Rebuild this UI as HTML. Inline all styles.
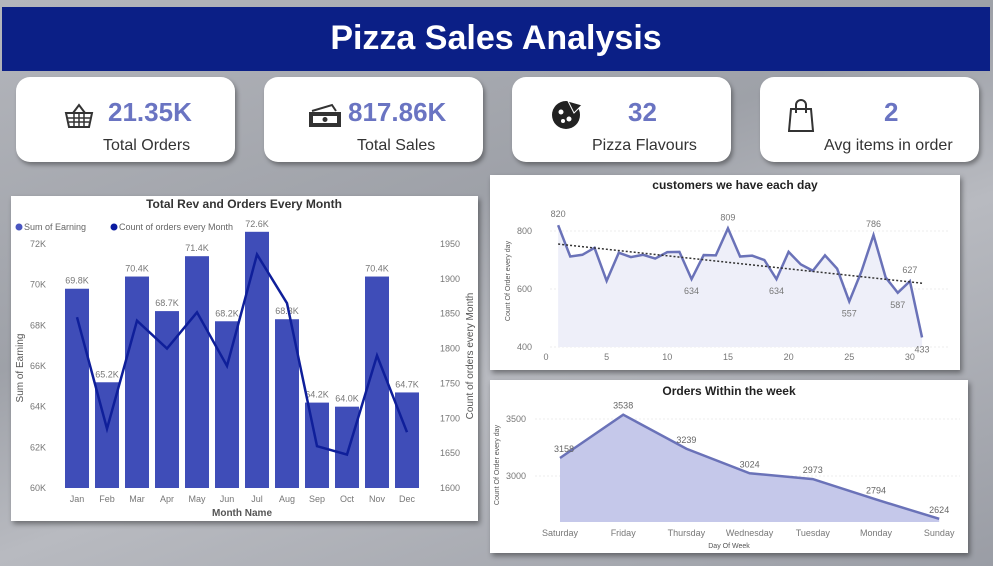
<!DOCTYPE html>
<html><head><meta charset="utf-8"><style>
body{margin:0;width:993px;height:566px;overflow:hidden;font-family:"Liberation Sans",sans-serif;background:linear-gradient(160deg,#b4b6bc 0%,#9ea1a8 40%,#b8bac0 60%,#9a9da5 100%);position:relative}
.hdr{position:absolute;left:2px;top:7px;width:988px;height:64px;background:#0b1f86;color:#fff;font-weight:bold;font-size:34px;text-align:center;line-height:62px}
.card{position:absolute;top:77px;width:219px;height:85px;background:#fff;border-radius:14px;box-shadow:2px 3px 4px rgba(0,0,0,.35)}
.card .v{position:absolute;top:20px;font-size:26px;font-weight:bold;color:#6a74c2}
.card .l{position:absolute;top:60px;font-size:16px;color:#333}
.card svg{position:absolute;top:26px}
.panel{position:absolute;background:#fff;box-shadow:2px 3px 5px rgba(0,0,0,.4)}
svg text{font-family:"Liberation Sans",sans-serif}
</style></head><body>
<div class="hdr">Pizza Sales Analysis</div>
<div class="card" style="left:16px">
<svg width="30" height="26" style="left:48px"><path d="M2 10h26l-3 14H5z M9 10l6-8 6 8" fill="none" stroke="#333" stroke-width="2"/><path d="M4 15h22M5 19h20M10 10v14M15 10v14M20 10v14" stroke="#333" stroke-width="1.5"/></svg>
<div class="v" style="left:92px">21.35K</div><div class="l" style="left:87px">Total Orders</div></div>
<div class="card" style="left:264px">
<svg width="34" height="26" style="left:44px"><path d="M4 8l20-6 4 6" fill="none" stroke="#333" stroke-width="2"/><rect x="1" y="9" width="32" height="15" fill="#333"/><rect x="5" y="13" width="24" height="7" fill="#fff"/><circle cx="17" cy="16.5" r="2.5" fill="#333"/></svg>
<div class="v" style="left:84px">817.86K</div><div class="l" style="left:93px">Total Sales</div></div>
<div class="card" style="left:512px">
<svg width="34" height="34" style="left:38px;top:20px"><circle cx="16" cy="18" r="14" fill="#222"/><circle cx="11" cy="15" r="2.5" fill="#fff"/><circle cx="19" cy="22" r="2.5" fill="#fff"/><circle cx="13" cy="24" r="2" fill="#fff"/><path d="M18 4l14 4-8 8z" fill="#222" stroke="#fff" stroke-width="1"/></svg>
<div class="v" style="left:116px">32</div><div class="l" style="left:80px">Pizza Flavours</div></div>
<div class="card" style="left:760px">
<svg width="28" height="34" style="left:28px;top:22px"><path d="M3 10h20l2 22H1z" fill="none" stroke="#333" stroke-width="2"/><path d="M8 14V6a5 5 0 0 1 10 0v8" fill="none" stroke="#333" stroke-width="2"/></svg>
<div class="v" style="left:124px">2</div><div class="l" style="left:64px">Avg items in order</div></div>

<div class="panel" style="left:11px;top:196px;width:467px;height:325px"><svg id="c1" width="467" height="325"></svg></div>
<div class="panel" style="left:490px;top:175px;width:470px;height:195px"><svg id="c2" width="470" height="195"></svg></div>
<div class="panel" style="left:490px;top:380px;width:478px;height:173px"><svg id="c3" width="478" height="173"></svg></div>
<script>
const months=["Jan","Feb","Mar","Apr","May","Jun","Jul","Aug","Sep","Oct","Nov","Dec"];
const earnings=[69.8,65.2,70.4,68.7,71.4,68.2,72.6,68.3,64.2,64.0,70.4,64.7];
const orderCounts=[1845,1685,1840,1800,1852,1775,1935,1865,1660,1648,1790,1680];
const leftTicks=[60,62,64,66,68,70,72];
const rightTicks=[1600,1650,1700,1750,1800,1850,1900,1950];
const days=[1,2,3,4,5,6,7,8,9,10,11,12,13,14,15,16,17,18,19,20,21,22,23,24,25,26,27,28,29,30,31];
const dailyOrders=[820,712,718,742,628,725,710,718,705,727,728,634,717,716,809,712,715,700,634,728,685,663,716,670,557,660,786,640,587,627,433];
const dailyLabels={1:820,12:634,15:809,19:634,25:557,27:786,29:587,30:627,31:433};
const dailyYTicks=[400,600,800];
const dailyXTicks=[0,5,10,15,20,25,30];
const trend=[755,620];
const weekDays=["Saturday","Friday","Thursday","Wednesday","Tuesday","Monday","Sunday"];
const weekOrders=[3158,3538,3239,3024,2973,2794,2624];
const weekYTicks=[3000,3500];
const NS="http://www.w3.org/2000/svg";
function mk(svg,tag,attrs,txt){const e=document.createElementNS(NS,tag);for(const k in attrs)e.setAttribute(k,attrs[k]);if(txt!==undefined)e.textContent=txt;svg.appendChild(e);return e;}

// Chart 1
(function(){
const s=document.getElementById('c1');
const yL=v=>292-(v-60)/12*244, yR=v=>292-(v-1600)/350*244, x=i=>66+i*30;
let t=mk(s,'text',{x:233,y:12,'text-anchor':'middle','font-size':12,'font-weight':'bold',fill:'#333'},'Total Rev and Orders Every Month');
mk(s,'circle',{cx:8,cy:31,r:3.5,fill:'#4a56c0'});
mk(s,'text',{x:13,y:34,'font-size':9,fill:'#666'},'Sum of Earning');
mk(s,'circle',{cx:103,cy:31,r:3.5,fill:'#0a1aa0'});
mk(s,'text',{x:108,y:34,'font-size':9,fill:'#666'},'Count of orders every Month');
leftTicks.forEach(v=>mk(s,'text',{x:35,y:yL(v)+3,'text-anchor':'end','font-size':9,fill:'#777'},v+'K'));
rightTicks.forEach(v=>mk(s,'text',{x:429,y:yR(v)+3,'text-anchor':'start','font-size':9,fill:'#777'},v));
earnings.forEach((v,i)=>{const b=mk(s,'rect',{x:x(i)-12,y:yL(v),width:24,height:292-yL(v),fill:'#3f4db8'});

mk(s,'text',{x:x(i),y:yL(v)-5,'text-anchor':'middle','font-size':9,fill:'#777'},v.toFixed(1)+'K');
mk(s,'text',{x:x(i),y:306,'text-anchor':'middle','font-size':9,fill:'#777'},months[i]);});
const ln=mk(s,'polyline',{points:orderCounts.map((v,i)=>x(i)+','+yR(v)).join(' '),fill:'none',stroke:'#0f1f9a','stroke-width':2.5});

mk(s,'text',{x:231,y:320,'text-anchor':'middle','font-size':10,'font-weight':'bold',fill:'#555'},'Month Name');
mk(s,'text',{x:12,y:172,'text-anchor':'middle','font-size':10,fill:'#555',transform:'rotate(-90 12 172)'},'Sum of Earning');
mk(s,'text',{x:462,y:160,'text-anchor':'middle','font-size':10,fill:'#555',transform:'rotate(-90 462 160)'},'Count of orders every Month');
})();

// Chart 2
(function(){
const s=document.getElementById('c2');
const x=d=>56+d*12.13, y=v=>56+(800-v)*0.29;
let t=mk(s,'text',{x:245,y:14,'text-anchor':'middle','font-size':12,'font-weight':'bold',fill:'#222'},'customers we have each day');
dailyYTicks.forEach(v=>{mk(s,'line',{x1:60,x2:460,y1:y(v),y2:y(v),stroke:'#eee','stroke-dasharray':'2 2'});mk(s,'text',{x:42,y:y(v)+3,'text-anchor':'end','font-size':9,fill:'#777'},v);});
dailyXTicks.forEach(v=>mk(s,'text',{x:x(v),y:185,'text-anchor':'middle','font-size':9,fill:'#777'},v));
mk(s,'polygon',{points:x(1)+','+y(400)+' '+dailyOrders.map((v,i)=>x(days[i])+','+y(v)).join(' ')+' '+x(31)+','+y(400),fill:'#eeeff9'});
const ln=mk(s,'polyline',{points:dailyOrders.map((v,i)=>x(days[i])+','+y(v)).join(' '),fill:'none',stroke:'#6a72b8','stroke-width':2.5});

const tl=mk(s,'line',{x1:x(1),y1:y(trend[0]),x2:x(31),y2:y(trend[1]),stroke:'#333','stroke-width':1.5,'stroke-dasharray':'2 2'});

days.forEach((d,i)=>{if(dailyLabels[d]!==undefined){const v=dailyOrders[i];const up=[1,15,27,30].includes(d);mk(s,'text',{x:x(d),y:up?y(v)-8:y(v)+15,'text-anchor':'middle','font-size':9,fill:'#777'},v);}});
mk(s,'text',{x:20,y:106,'text-anchor':'middle','font-size':7,fill:'#555',transform:'rotate(-90 20 106)'},'Count Of Order every day');
})();

// Chart 3
(function(){
const s=document.getElementById('c3');
const x=i=>70+i*63.2, y=v=>39-(v-3500)*0.114, base=142;
let t=mk(s,'text',{x:239,y:15,'text-anchor':'middle','font-size':12,'font-weight':'bold',fill:'#222'},'Orders Within the week');
weekYTicks.forEach(v=>{mk(s,'line',{x1:45,x2:470,y1:y(v),y2:y(v),stroke:'#eee','stroke-dasharray':'2 2'});mk(s,'text',{x:36,y:y(v)+3,'text-anchor':'end','font-size':9,fill:'#777'},v);});
mk(s,'polygon',{points:x(0)+','+base+' '+weekOrders.map((v,i)=>x(i)+','+y(v)).join(' ')+' '+x(6)+','+base,fill:'#c5c8ea'});
const ln=mk(s,'polyline',{points:weekOrders.map((v,i)=>x(i)+','+y(v)).join(' '),fill:'none',stroke:'#6a72b8','stroke-width':2.5});

weekOrders.forEach((v,i)=>{mk(s,'text',{x:x(i)+(i==0?4:0),y:y(v)-6,'text-anchor':'middle','font-size':9,fill:'#666'},v);
mk(s,'text',{x:x(i),y:156,'text-anchor':'middle','font-size':9,fill:'#777'},weekDays[i]);});
mk(s,'text',{x:239,y:168,'text-anchor':'middle','font-size':7,fill:'#555'},'Day Of Week');
mk(s,'text',{x:9,y:85,'text-anchor':'middle','font-size':7,fill:'#555',transform:'rotate(-90 9 85)'},'Count Of Order every day');
})();
</script>
</body></html>
